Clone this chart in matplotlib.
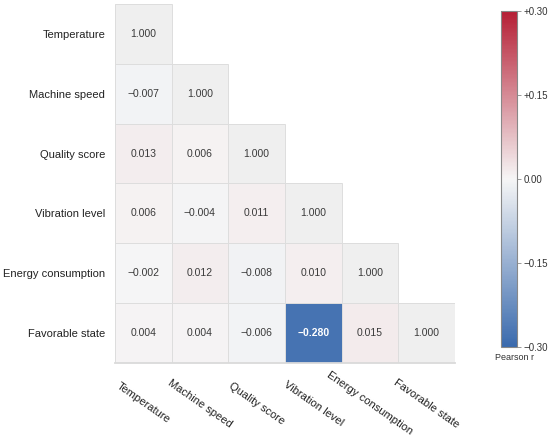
import matplotlib.pyplot as plt
import numpy as np
from matplotlib.colors import LinearSegmentedColormap, ListedColormap
from matplotlib.patches import Rectangle

plt.rcParams['font.family'] = ['Liberation Sans', 'DejaVu Sans']

labels = ["Temperature", "Machine speed", "Quality score", "Vibration level",
          "Energy consumption", "Favorable state"]

# lower triangle of the correlation matrix, row by row
row_ms = [-0.007]
row_qs = [0.013, 0.006]
row_vl = [0.006, -0.004, 0.011]
row_ec = [-0.002, 0.012, -0.008, 0.010]
row_fs = [0.004, 0.004, -0.006, -0.280, 0.015]
lower_rows = [[], row_ms, row_qs, row_vl, row_ec, row_fs]

cbar_ticks = [-0.30, -0.15, 0.00, 0.15, 0.30]

n = len(labels)
corr = np.eye(n)
for i, row in enumerate(lower_rows):
    for j, v in enumerate(row):
        corr[i, j] = v
        corr[j, i] = v

cmap = LinearSegmentedColormap.from_list("pr", ["#3a6aad", "#f6f6f6", "#b51f35"])

fig = plt.figure(figsize=(5.5, 4.41), dpi=100)
ax = fig.add_axes([0.209, 0.177, 0.618, 0.814])
cax = fig.add_axes([0.911, 0.213, 0.029, 0.762])

ii, jj = np.indices((n, n))
off = np.ma.masked_where(jj >= ii, corr)
diag = np.ma.masked_where(jj != ii, corr)

mesh = ax.pcolormesh(off, cmap=cmap, vmin=-0.3, vmax=0.3)
ax.pcolormesh(diag, cmap=ListedColormap(["#efefef"]))
ax.set_xlim(0, n)
ax.set_ylim(n, 0)

# thin light borders only around the drawn cells
for i in range(n):
    for j in range(i + 1):
        ax.add_patch(Rectangle((j, i), 1, 1, fill=False, edgecolor="#dddddd",
                               linewidth=0.7))
ax.plot([0, n], [n, n], color="#dadada", linewidth=1.3, clip_on=False)

for i in range(n):
    for j in range(i + 1):
        v = corr[i, j]
        txt = "{:.3f}".format(v).replace("-", "\u2212")
        if i != j and abs(v) > 0.2:
            ax.text(j + 0.5, i + 0.5, txt, ha="center", va="center",
                    fontsize=7.5, color="white", fontweight="bold")
        else:
            ax.text(j + 0.5, i + 0.5, txt, ha="center", va="center",
                    fontsize=7.5, color="#3a3a3a")

ax.set_xticks(np.arange(n) + 0.5)
ax.set_yticks(np.arange(n) + 0.5)
ax.set_xticklabels(labels, rotation=-35, ha="center", va="center",
                   rotation_mode="anchor", fontsize=8, color="#222222")
ax.set_yticklabels(labels, fontsize=8, color="#222222")
ax.tick_params(axis="x", length=0, pad=29)
ax.tick_params(axis="y", length=0, pad=7)
for s in ax.spines.values():
    s.set_visible(False)

cb = fig.colorbar(mesh, cax=cax, ticks=cbar_ticks)
cb.ax.set_yticklabels(["\u22120.30", "\u22120.15", "0.00", "+0.15", "+0.30"])
cb.ax.tick_params(labelsize=7, length=3, width=0.6, color="#888888",
                  labelcolor="#333333", pad=1.5)
cb.outline.set_edgecolor("#888888")
cb.outline.set_linewidth(0.8)
fig.text(0.935, 0.19, "Pearson r", ha="center", va="center",
         fontsize=6.5, color="#333333")

fig.savefig("out.png", dpi=100)
